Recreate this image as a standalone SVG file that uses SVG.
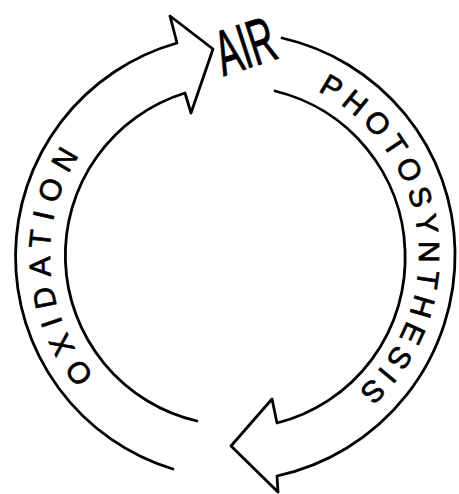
<svg xmlns="http://www.w3.org/2000/svg" width="459" height="494" viewBox="0 0 459 494">
  <style>
    .line { fill: none; stroke: #000; stroke-width: 2.8; stroke-linecap: round; stroke-linejoin: round; }
    .label { font-family: "Liberation Sans", Arial, sans-serif; font-size: 30px; fill: #000; stroke: #000; stroke-width: 0.7; }
    .air { font-family: "Liberation Sans", Arial, sans-serif; font-size: 64px; fill: #000; stroke: #000; stroke-width: 1; }
  </style>
  <defs>
    <path id="oxPath" d="M102.2,384.2 A186,186 0 0 1 104.5,123.5"/>
    <path id="phPath" d="M292.5,81 A183,183 0 0 1 321.9,416.6"/>
  </defs>
  <rect width="459" height="494" fill="#fff"/>
  <g id="connectors">
    <g id="oxidation-arrow">
      <path class="line" d="M173,469 A222,222 0 0 1 177,43 L170,16 L213,49 L191,113 L185,93 A170,170 0 0 0 197,421"/>
      <text class="label" letter-spacing="9.2"><textPath href="#oxPath" startOffset="11.4">OXIDATION</textPath></text>
    </g>
    <g id="photosynthesis-arrow">
      <path class="line" d="M282,38 A222,222 0 0 1 455,250 A226,226 0 0 1 277,476 L278,492 L231,446 L272,399 L277,423 A170,170 0 0 0 405,250 A170,170 0 0 0 275,91"/>
      <text class="label" letter-spacing="6.1"><textPath href="#phPath" startOffset="27">PHOTOSYNTHESIS</textPath></text>
    </g>
  </g>
  <g id="air">
    <text class="air" text-anchor="middle" transform="translate(252,67) rotate(-18) scale(0.56,1)">AIR</text>
  </g>
</svg>
